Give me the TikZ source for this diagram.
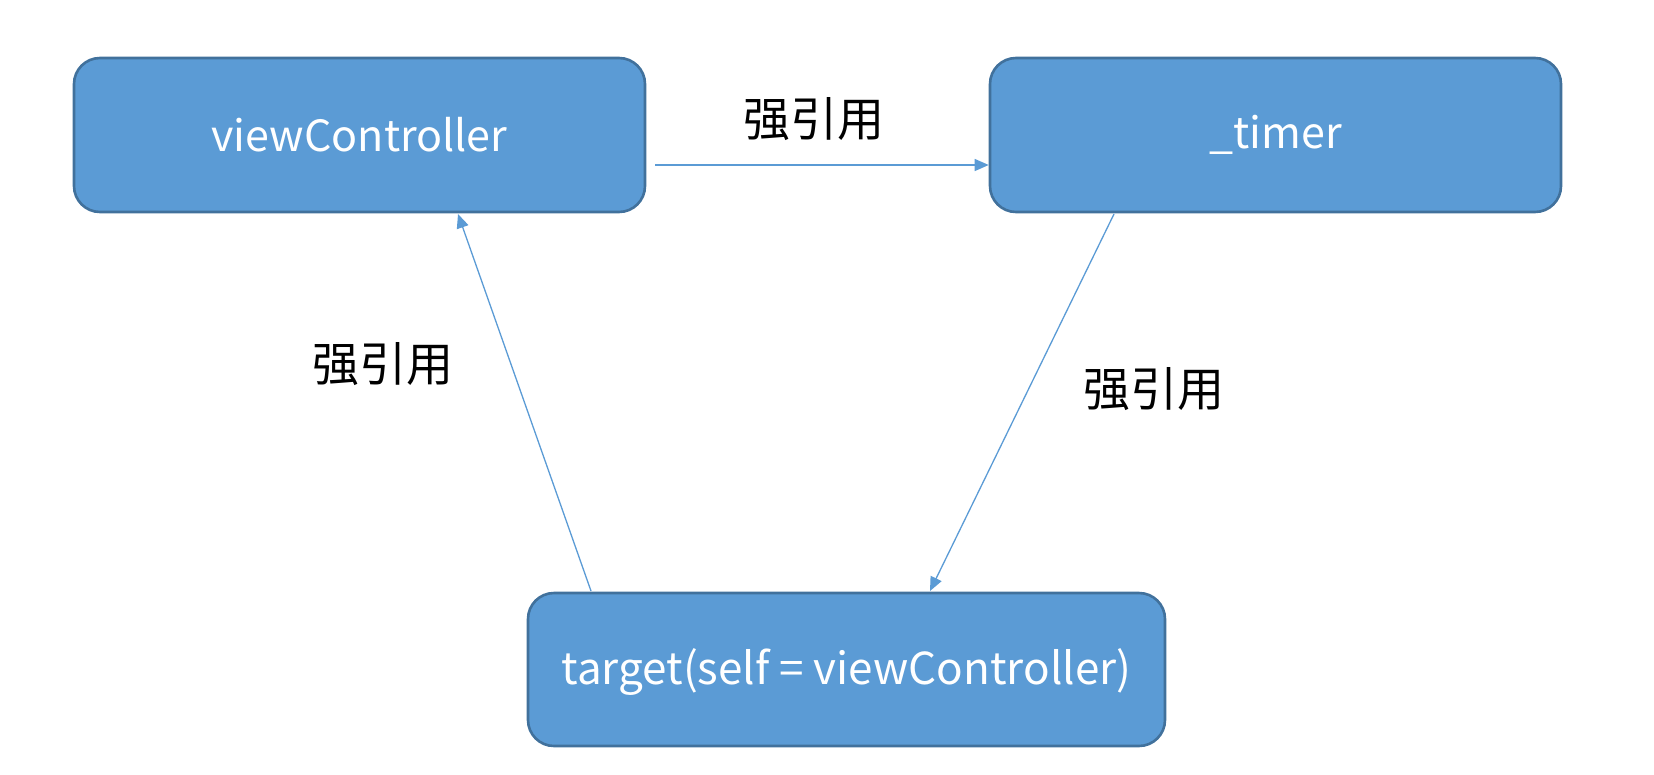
\documentclass[tikz,border=0pt]{standalone}
\usepackage{fontspec}
\setmainfont{Noto Sans CJK SC}
\usetikzlibrary{arrows.meta}
\definecolor{boxfill}{HTML}{5B9BD5}
\definecolor{boxline}{HTML}{41719C}
\definecolor{arrline}{HTML}{5B9BD5}
\begin{document}
\begin{tikzpicture}[x=1pt,y=1pt,
  blk/.style={draw=boxline,line width=2.6pt,fill=boxfill,rounded corners=26pt,inner sep=0pt},
  blktext/.style={text=white,font=\fontsize{43}{48}\selectfont},
  arr/.style={draw=arrline,line width=1.3pt,-{Triangle[length=14pt,width=12pt]}},
  lbl/.style={font=\fontsize{47}{52}\selectfont,text=black}]
\useasboundingbox (0,0) rectangle (1654,-774);
\node[blk,minimum width=571pt,minimum height=154pt] (vc) at (359.5,-135) {};
\node[blk,minimum width=571pt,minimum height=154pt] (tm) at (1275.5,-135) {};
\node[blk,minimum width=637pt,minimum height=153pt] (tg) at (846.5,-669.5) {};
\node[blktext] (vct) at (vc.center) {viewController};
\node[blktext] (tmt) at (tm.center) {\_timer};
\node[blktext,font=\fontsize{44}{48}\selectfont] (tgt) at ([yshift=-2pt]tg.center) {target(self = viewController)};
\coordinate (s1) at (655,-165);
\coordinate (s2) at (1114,-214);
\coordinate (e2) at (930,-591);
\coordinate (s3) at (591,-591);
\coordinate (e3) at (458,-214);
\draw[arr] (s1) -- (tm.west |- s1);
\draw[arr] (s2) -- (e2);
\draw[arr] (s3) -- (e3);
\node[lbl] (l1) at (814,-119) {强引用};
\node[lbl] (l2) at (383,-364) {强引用};
\node[lbl] (l3) at (1154,-389) {强引用};
\end{tikzpicture}
\end{document}
